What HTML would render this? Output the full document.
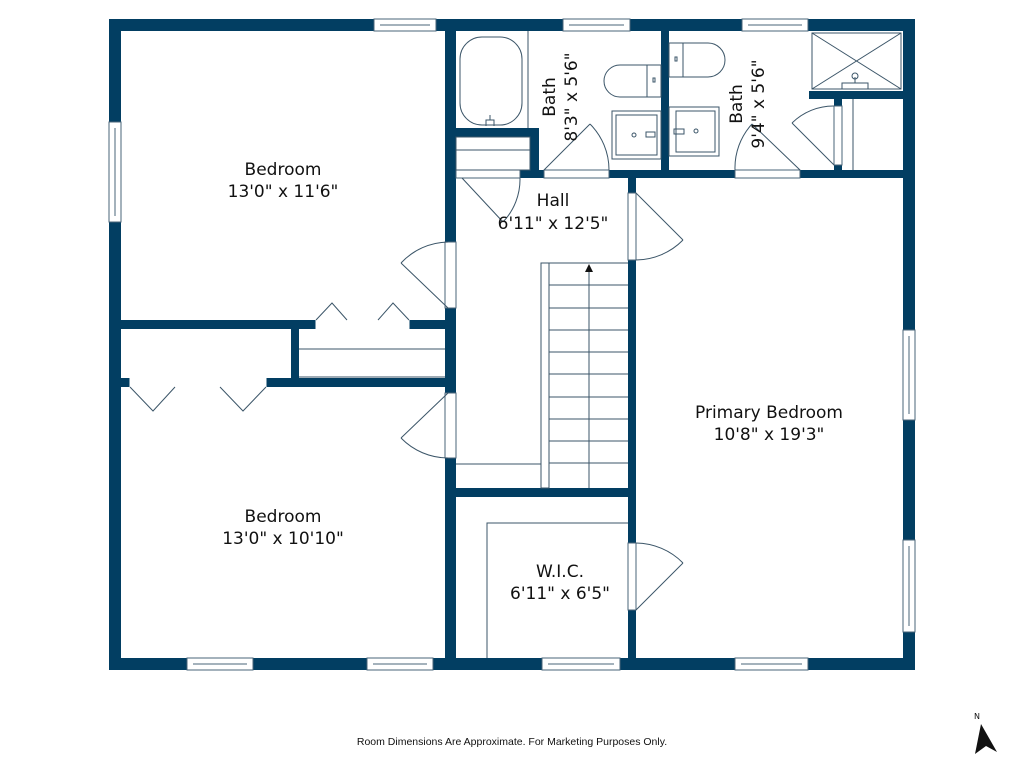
<!DOCTYPE html>
<html><head><meta charset="utf-8"><style>
html,body{margin:0;padding:0;background:#fff;width:1024px;height:768px;overflow:hidden}
text{font-family:"DejaVu Sans","Liberation Sans",sans-serif;fill:#111}
</style></head><body>
<svg width="1024" height="768" viewBox="0 0 1024 768" xmlns="http://www.w3.org/2000/svg">
<g fill="#023e62">
<rect x="109" y="19" width="806" height="12"/>
<rect x="109" y="658" width="806" height="12"/>
<rect x="109" y="19" width="12" height="651"/>
<rect x="903" y="19" width="12" height="651"/>
<rect x="445" y="19" width="11" height="651"/>
<rect x="628" y="170" width="8" height="500"/>
<rect x="661" y="19" width="8" height="159"/>
<rect x="445" y="170" width="460" height="8"/>
<rect x="445" y="128" width="94" height="9"/>
<rect x="530" y="128" width="9" height="50"/>
<rect x="809" y="91" width="96" height="8"/>
<rect x="834" y="91" width="8" height="87"/>
<rect x="445" y="488" width="191" height="9"/>
<rect x="121" y="320" width="195" height="9"/>
<rect x="409" y="320" width="37" height="9"/>
<rect x="291" y="320" width="8" height="67"/>
<rect x="121" y="378" width="9" height="9"/>
<rect x="266" y="378" width="180" height="9"/>
</g>
<g fill="#fff" stroke="#4a6478" stroke-width="1">
<rect x="374" y="19" width="62" height="12"/><rect x="563" y="19" width="67" height="12"/><rect x="742" y="19" width="66" height="12"/>
<rect x="109" y="122" width="12" height="100"/>
<rect x="903" y="330" width="12" height="90"/><rect x="903" y="540" width="12" height="92"/>
<rect x="187" y="658" width="66" height="12"/><rect x="367" y="658" width="66" height="12"/><rect x="542" y="658" width="78" height="12"/><rect x="735" y="658" width="73" height="12"/>
</g>
<g stroke="#4a6478" stroke-width="1" fill="none">
<line x1="380" y1="25" x2="430" y2="25"/><line x1="569" y1="25" x2="624" y2="25"/><line x1="748" y1="25" x2="802" y2="25"/>
<line x1="115" y1="128" x2="115" y2="216"/><line x1="909" y1="336" x2="909" y2="414"/><line x1="909" y1="546" x2="909" y2="626"/>
<line x1="193" y1="664" x2="247" y2="664"/><line x1="373" y1="664" x2="427" y2="664"/><line x1="548" y1="664" x2="614" y2="664"/><line x1="741" y1="664" x2="802" y2="664"/>
</g>
<g fill="#fff" stroke="#4a6478" stroke-width="1">
<rect x="445" y="242" width="11" height="66"/><rect x="445" y="393" width="11" height="65"/>
<rect x="628" y="193" width="8" height="67"/><rect x="628" y="543" width="8" height="67"/>
<rect x="544" y="170" width="65" height="8"/><rect x="735" y="170" width="65" height="8"/>
<rect x="834" y="106" width="8" height="59"/><rect x="456" y="170" width="64" height="8"/>
</g>
<g stroke="#fff" fill="#fff"><rect x="316" y="320" width="93" height="9"/><rect x="130" y="378" width="136" height="9"/></g>
<g stroke="#3b5568" stroke-width="1" fill="none">
<line x1="448" y1="308" x2="401" y2="263"/><path d="M401,263 A66,66 0 0 1 448,242"/>
<line x1="448" y1="393" x2="401" y2="438"/><path d="M401,438 A66,66 0 0 0 448,458"/>
<line x1="636" y1="193" x2="683" y2="240"/><path d="M683,240 A67,67 0 0 1 636,260"/>
<line x1="636" y1="610" x2="683" y2="563"/><path d="M683,563 A67,67 0 0 0 636,543"/>
<line x1="544" y1="170" x2="590" y2="124"/><path d="M590,124 A65,65 0 0 1 609,170"/>
<line x1="800" y1="170" x2="752" y2="124"/><path d="M752,124 A65,65 0 0 0 735,170"/>
<line x1="834" y1="165" x2="792" y2="123"/><path d="M792,123 A59,59 0 0 1 834,106"/>
<line x1="462" y1="178" x2="503" y2="222"/><path d="M503,222 A62,62 0 0 0 520,178"/>
<polyline points="316,320 332,303 347,320"/><polyline points="378,320 393,303 409,320"/>
<polyline points="130,387 153,411 175,387"/><polyline points="220,387 243,411 266,387"/>
<line x1="299" y1="349" x2="445" y2="349"/><line x1="299" y1="377" x2="445" y2="377"/>
<line x1="528" y1="31" x2="528" y2="128"/>
<rect x="460" y="37" width="62" height="88" rx="22"/>
<rect x="456" y="137" width="74" height="33"/><line x1="456" y1="150" x2="530" y2="150"/>
<path d="M486,126 v-6 h8 v6 M490,120 v-5"/>
<rect x="647" y="65" width="14" height="32"/><path d="M647,65 h-27 a16,16 0 0 0 0,32 h27"/>
<rect x="653" y="78" width="2" height="4"/>
<rect x="612" y="111" width="49" height="48"/><rect x="616" y="115" width="41" height="40"/>
<circle cx="634" cy="135" r="2"/><rect x="646" y="132" width="9" height="5"/>
<rect x="669" y="43" width="14" height="34"/><path d="M683,43 h25 a17,17 0 0 1 0,34 h-25"/>
<rect x="675" y="57" width="2" height="4"/>
<rect x="669" y="107" width="50" height="49"/><rect x="676" y="111" width="39" height="41"/>
<circle cx="696" cy="131" r="2"/><rect x="674" y="129" width="10" height="5"/>
<rect x="812" y="33" width="89" height="56"/><line x1="812" y1="33" x2="901" y2="89"/><line x1="901" y1="33" x2="812" y2="89"/>
<path d="M842,89 v-6 h26 v6 M855,83 v-6"/><circle cx="855" cy="76" r="3"/>
<line x1="853" y1="99" x2="853" y2="170"/>
<rect x="541" y="263" width="8" height="225"/>
<line x1="549" y1="263" x2="628" y2="263"/>
<line x1="549" y1="285" x2="628" y2="285"/><line x1="549" y1="308" x2="628" y2="308"/><line x1="549" y1="330" x2="628" y2="330"/><line x1="549" y1="352" x2="628" y2="352"/><line x1="549" y1="374" x2="628" y2="374"/><line x1="549" y1="397" x2="628" y2="397"/><line x1="549" y1="419" x2="628" y2="419"/><line x1="549" y1="441" x2="628" y2="441"/><line x1="549" y1="463" x2="628" y2="463"/>
<line x1="589" y1="270" x2="589" y2="488"/>
<line x1="456" y1="464" x2="541" y2="464"/>
<polyline points="628,523 487,523 487,658"/>
</g>
<polygon points="589,264 585,272 593,272" fill="#111"/>
<g font-size="17" text-anchor="middle">
<text x="283" y="175">Bedroom</text><text x="283" y="197">13'0" x 11'6"</text>
<text x="283" y="522">Bedroom</text><text x="283" y="544">13'0" x 10'10"</text>
<text x="553" y="206">Hall</text><text x="553" y="229">6'11" x 12'5"</text>
<text x="769" y="418">Primary Bedroom</text><text x="769" y="440">10'8" x 19'3"</text>
<text x="560" y="577">W.I.C.</text><text x="560" y="599">6'11" x 6'5"</text>
<text transform="translate(555,97) rotate(-90)">Bath</text><text transform="translate(577,97) rotate(-90)">8'3" x 5'6"</text>
<text transform="translate(742,104) rotate(-90)">Bath</text><text transform="translate(764,104) rotate(-90)">9'4" x 5'6"</text>
</g>
<text x="512" y="745" font-size="10.5" text-anchor="middle" style="font-family:'Liberation Sans',sans-serif">Room Dimensions Are Approximate. For Marketing Purposes Only.</text>
<text x="977" y="719" font-size="8" text-anchor="middle">N</text>
<polygon points="981,724 997,752 986,746 975,754" fill="#111"/>
</svg>
</body></html>
